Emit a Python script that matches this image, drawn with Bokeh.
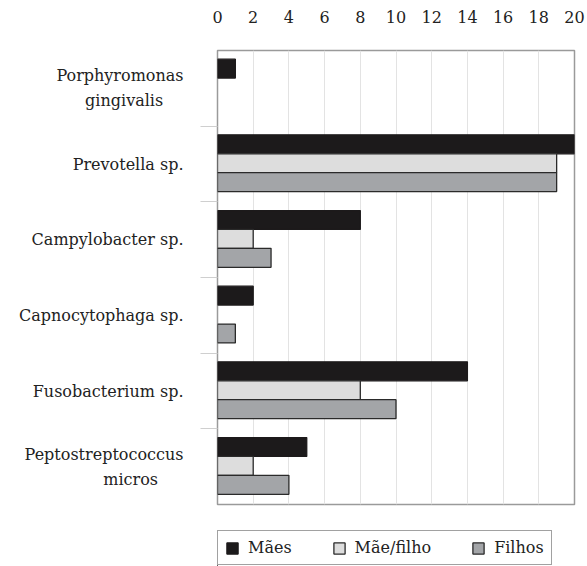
from bokeh.plotting import figure
from bokeh.layouts import column
from bokeh.models import Range1d, FixedTicker, Legend, LegendItem, ColumnDataSource
from bokeh.embed import file_html
from bokeh.resources import INLINE

# ---- data ----
NB = "\u00a0"
categories = ["Porphyromonas\ngingivalis" + NB * 4, "Prevotella sp.", "Campylobacter sp.",
              "Capnocytophaga sp.", "Fusobacterium sp.", "Peptostreptococcus\nmicros" + NB * 5]
series_names = ["Mães", "Mãe/filho", "Filhos"]
maes = [1, 20, 8, 2, 14, 5]
mae_filho = [0, 19, 2, 0, 8, 2]
filhos = [0, 19, 3, 1, 10, 4]
x_ticks = [0, 2, 4, 6, 8, 10, 12, 14, 16, 18, 20]

series_values = [maes, mae_filho, filhos]
fills = ["#1c1a1b", "#dddddd", "#a3a5a8"]
lines = ["#1c1a1b", "#2a2a2a", "#2a2a2a"]
offsets = [-0.26, -0.01, 0.24]

FONT = "DejaVu Serif"
TXT = "#222222"

p = figure(width=587, height=506, output_backend="svg", toolbar_location=None,
           x_range=Range1d(0, 20), y_range=Range1d(len(categories) - 0.5, -0.5),
           x_axis_location="above",
           min_border_left=217, min_border_right=13, min_border_top=50, min_border_bottom=2)

for name, vals, fc, lc, off in zip(series_names, series_values, fills, lines, offsets):
    ys = [i + off for i, v in enumerate(vals) if v > 0]
    xs = [v for v in vals if v > 0]
    src = ColumnDataSource(dict(y=ys, right=xs))
    p.hbar(y="y", left=0, right="right", height=0.25, source=src,
           fill_color=fc, line_color=lc, line_width=1.3)

# x axis (top)
xa = p.xaxis[0]
xa.ticker = FixedTicker(ticks=x_ticks)
xa.axis_line_color = None
xa.major_tick_line_color = None
xa.minor_tick_line_color = None
xa.major_label_standoff = 22
xa.major_label_text_font = FONT
xa.major_label_text_font_size = "16px"
xa.major_label_text_color = TXT

# y axis (left)
ya = p.yaxis[0]
ya.ticker = FixedTicker(ticks=list(range(len(categories))),
                        minor_ticks=[i + 0.5 for i in range(len(categories) - 1)])
ya.major_label_overrides = {i: c for i, c in enumerate(categories)}
ya.axis_line_color = None
ya.major_tick_line_color = None
ya.major_tick_out = 0
ya.minor_tick_line_color = "#cfcfcf"
ya.minor_tick_out = 17
ya.minor_tick_in = 0
ya.minor_tick_line_width = 1.2
ya.major_label_standoff = 17
ya.major_label_text_font = FONT
ya.major_label_text_font_size = "16px"
ya.major_label_text_color = TXT
ya.major_label_text_line_height = 1.3

p.ygrid.grid_line_color = None
p.xgrid.ticker = FixedTicker(ticks=x_ticks)
p.xgrid.grid_line_color = "#e3e3e3"
p.outline_line_color = "#9a9a9a"
p.outline_line_width = 1.5

# legend strip (its bars fall outside its own ranges, only the legend shows)
q = figure(width=587, height=60, output_backend="svg", toolbar_location=None,
           x_axis_type=None, y_axis_type=None,
           min_border_left=217, min_border_right=13, min_border_top=0, min_border_bottom=0,
           x_range=Range1d(100, 101), y_range=Range1d(100, 101))
q.outline_line_color = None
q.xgrid.grid_line_color = None
q.ygrid.grid_line_color = None
items = []
for name, vals, fc, lc in zip(series_names, series_values, fills, lines):
    src = ColumnDataSource(dict(y=list(range(len(vals))), right=vals))
    r = q.hbar(y="y", left=0, right="right", height=0.25, source=src,
               fill_color=fc, line_color=lc, line_width=1.3)
    items.append(LegendItem(label=name, renderers=[r]))

legend = Legend(items=items, orientation="horizontal", location=(0, 1),
                label_text_font=FONT, label_text_font_size="16px",
                label_text_color=TXT,
                glyph_width=14, glyph_height=14, label_standoff=9, spacing=40,
                padding=7, margin=0,
                border_line_color="#444444", border_line_width=1.2,
                background_fill_alpha=1)
q.add_layout(legend, "center")

layout = column(p, q, spacing=0)
open("out.html", "w").write(file_html(layout, INLINE))
